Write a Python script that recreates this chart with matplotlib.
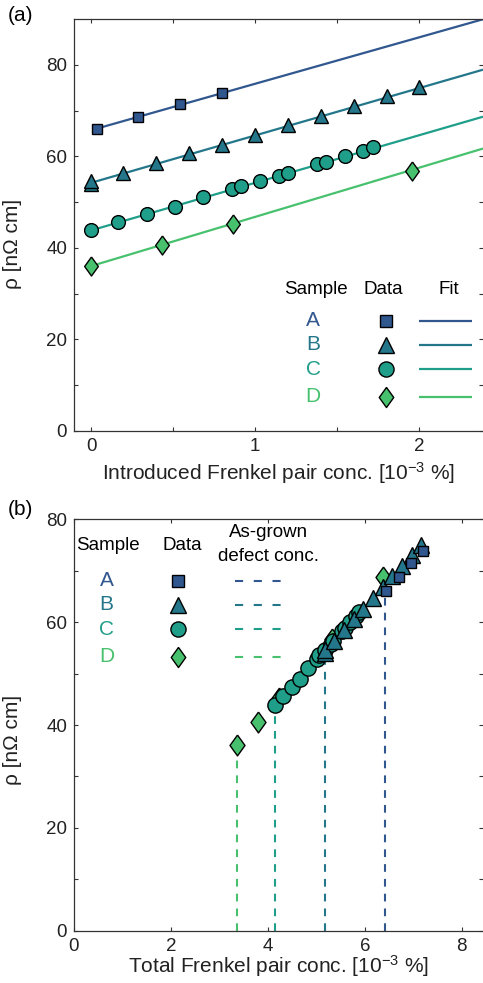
import numpy as np
import matplotlib
matplotlib.use("Agg")
import matplotlib.pyplot as plt

plt.rcParams['font.family'] = ['Liberation Sans', 'DejaVu Sans']
plt.rcParams['mathtext.fontset'] = 'custom'
plt.rcParams['mathtext.rm'] = 'Liberation Sans'
plt.rcParams['mathtext.it'] = 'Liberation Sans:italic'
plt.rcParams['mathtext.default'] = 'regular'

# ---------------- data ----------------
samples = ["A", "B", "C", "D"]
colors = ["#31578f", "#24778b", "#1f9e89", "#48c16e"]

# introduced Frenkel pair concentration [1e-3 %] and resistivity [nOhm cm]
x_A = [0.035, 0.289, 0.543, 0.797]
y_A = [66.0, 68.7, 71.5, 73.8]

x_B = [0.0, 0.0, 0.197, 0.394, 0.598, 0.797, 1.0, 1.203, 1.401, 1.604, 1.803, 2.0]
y_B = [54.0, 54.5, 56.4, 58.5, 60.7, 62.5, 64.7, 66.9, 68.9, 71.0, 73.1, 75.1]

x_C = [0.0, 0.167, 0.340, 0.512, 0.685, 0.857, 0.913, 1.030, 1.146, 1.203,
       1.376, 1.433, 1.549, 1.661, 1.722]
y_C = [43.9, 45.6, 47.4, 49.0, 51.1, 52.8, 53.6, 54.6, 55.7, 56.4,
       58.3, 58.8, 60.0, 61.2, 62.0]

x_D = [0.0, 0.435, 0.868, 1.955, 3.01]
y_D = [36.1, 40.6, 45.2, 56.7, 68.7]

# linear fits: intercept [nOhm cm], slope [nOhm cm per 1e-3 %]
fit_intercept = [65.7, 54.2, 43.8, 36.0]
fit_slope = [10.15, 10.35, 10.4, 10.75]

# as-grown defect concentration [1e-3 %]
asgrown = [6.41, 5.17, 4.15, 3.36]

xs = [x_A, x_B, x_C, x_D]
ys = [y_A, y_B, y_C, y_D]

# ---------------- styling ----------------
diamond = [(0, 1), (0.72, 0), (0, -1), (-0.72, 0), (0, 1)]
markers = ['s', '^', 'o', diamond]
ms_a = [7.4, 10.5, 9.9, 13.7]
ms_b = [7.6, 11.8, 11.0, 15.0]
ms_leg = [8.0, 12.2, 10.9, 14.5]

fig = plt.figure(figsize=(4.83, 9.83), dpi=100)
ax_a = fig.add_axes([0.1532, 0.5618, 0.8468, 0.4188])
ax_b = fig.add_axes([0.1532, 0.0532, 0.8468, 0.4185])

tick_fs = 13.5
lab_fs = 15
leg_fs = 13.5
let_fs = 15
txtc = '#222222'

for ax in (ax_a, ax_b):
    ax.tick_params(which='both', direction='in', top=True, right=True,
                   length=3, width=0.8, labelsize=tick_fs, colors='#333333',
                   labelcolor=txtc, pad=5)
    for s in ax.spines.values():
        s.set_linewidth(0.9)
        s.set_color('#333333')
    ax.spines['right'].set_visible(False)

# ---------------- panel (a) ----------------
xmax_a = 2.39
for i in range(4):
    x0 = xs[i][0]
    xl = np.array([x0, xmax_a])
    ax_a.plot(xl, fit_intercept[i] + fit_slope[i] * xl, color=colors[i], lw=1.6,
              zorder=2, solid_capstyle='butt')
for i in range(4):
    ax_a.plot(xs[i], ys[i], linestyle='none', marker=markers[i], ms=ms_a[i],
              mfc=colors[i], mec='black', mew=1.0, zorder=3, clip_on=True)

ax_a.set_xlim(-0.104, xmax_a)
ax_a.set_ylim(0, 90)
ax_a.set_xticks([0, 1, 2])
ax_a.set_xticks([0.5, 1.5], minor=True)
ax_a.set_yticks([0, 20, 40, 60, 80])
ax_a.set_yticks([10, 30, 50, 70], minor=True)
ax_a.set_xlabel(r'Introduced Frenkel pair conc. [10$^{-3}$ %]', fontsize=lab_fs,
                color=txtc, labelpad=4)
ax_a.set_ylabel(r'ρ [nΩ cm]', fontsize=lab_fs, color=txtc)
ax_a.yaxis.set_label_coords(-0.128, 0.4535)

# legend (a)
T = ax_a.transAxes
ax_a.text(0.591, 0.3435, 'Sample', transform=T, ha='center', va='center', fontsize=leg_fs, color='black')
ax_a.text(0.756, 0.3435, 'Data', transform=T, ha='center', va='center', fontsize=leg_fs, color='black')
ax_a.text(0.917, 0.3435, 'Fit', transform=T, ha='center', va='center', fontsize=leg_fs, color='black')
rows_a = [0.267, 0.209, 0.149, 0.083]
for i in range(4):
    yy = rows_a[i]
    ax_a.text(0.585, yy, samples[i], transform=T, ha='center', va='center',
              fontsize=let_fs, color=colors[i])
    ax_a.plot([0.762], [yy], transform=T, marker=markers[i], ms=ms_leg[i],
              mfc=colors[i], mec='black', mew=1.0, linestyle='none', clip_on=False)
    ax_a.plot([0.8435, 0.972], [yy, yy], transform=T, color=colors[i], lw=1.6,
              solid_capstyle='butt')

# ---------------- panel (b) ----------------
for i in range(4):
    ax_b.plot([asgrown[i], asgrown[i]], [0, ys[i][0]], color=colors[i], lw=1.5,
              linestyle=(0, (3.7, 3.4)), zorder=1)
for i in [3, 2, 1, 0]:
    xt = np.array(xs[i]) + asgrown[i]
    ax_b.plot(xt, ys[i], linestyle='none', marker=markers[i], ms=ms_b[i],
              mfc=colors[i], mec='black', mew=1.0, zorder=3 + (3 - i))

ax_b.set_xlim(0, 8.44)
ax_b.set_ylim(0, 80)
ax_b.set_xticks([0, 2, 4, 6, 8])
ax_b.set_yticks([0, 20, 40, 60, 80])
ax_b.set_yticks([10, 30, 50, 70], minor=True)
ax_b.set_xlabel(r'Total Frenkel pair conc. [10$^{-3}$ %]', fontsize=lab_fs,
                color=txtc, labelpad=-1)
ax_b.set_ylabel(r'ρ [nΩ cm]', fontsize=lab_fs, color=txtc)
ax_b.yaxis.set_label_coords(-0.128, 0.4635)

T = ax_b.transAxes
ax_b.text(0.0839, 0.9375, 'Sample', transform=T, ha='center', va='center', fontsize=leg_fs, color='black')
ax_b.text(0.265, 0.9375, 'Data', transform=T, ha='center', va='center', fontsize=leg_fs, color='black')
ax_b.text(0.475, 0.967, 'As-grown', transform=T, ha='center', va='center', fontsize=leg_fs, color='black')
ax_b.text(0.475, 0.909, 'defect conc.', transform=T, ha='center', va='center', fontsize=leg_fs, color='black')
rows_b = [0.851, 0.792, 0.733, 0.666]
for i in range(4):
    yy = rows_b[i]
    ax_b.text(0.080, yy, samples[i], transform=T, ha='center', va='center',
              fontsize=let_fs, color=colors[i])
    ax_b.plot([0.2535], [yy], transform=T, marker=markers[i], ms=ms_leg[i],
              mfc=colors[i], mec='black', mew=1.0, linestyle='none', clip_on=False)
    ax_b.plot([0.394, 0.508], [yy, yy], transform=T, color=colors[i], lw=1.5,
              linestyle=(0, (3.9, 5.1)))

fig.text(0.016, 0.984, '(a)', ha='left', va='center', fontsize=15, color='black')
fig.text(0.016, 0.482, '(b)', ha='left', va='center', fontsize=15, color='black')

fig.savefig('out.png', dpi=100)
